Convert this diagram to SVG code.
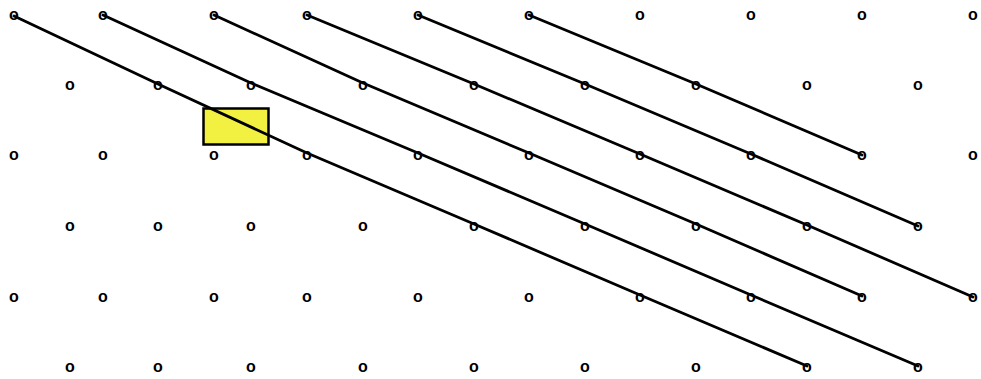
<svg xmlns="http://www.w3.org/2000/svg" width="981" height="379" viewBox="0 0 981 379">
<style>
.o{font-family:"Liberation Sans",Arial,sans-serif;font-size:16px;font-weight:bold;fill:#000;text-anchor:middle}
.ln{fill:none;stroke:#000;stroke-width:2.8;stroke-linejoin:round;stroke-linecap:round}
.box{fill:#f2f040;stroke:#000;stroke-width:2.5}
</style>
<rect width="981" height="379" fill="#fff"/>
<g id="nodes">
<g id="row1">
<text class="o" x="14" y="20">o</text>
<text class="o" x="103" y="20">o</text>
<text class="o" x="214" y="20">o</text>
<text class="o" x="307" y="20">o</text>
<text class="o" x="418" y="20">o</text>
<text class="o" x="529" y="20">o</text>
<text class="o" x="640" y="20">o</text>
<text class="o" x="751" y="20">o</text>
<text class="o" x="862" y="20">o</text>
<text class="o" x="973" y="20">o</text>
</g>
<g id="row2">
<text class="o" x="70" y="90">o</text>
<text class="o" x="158" y="90">o</text>
<text class="o" x="251" y="90">o</text>
<text class="o" x="363" y="90">o</text>
<text class="o" x="474" y="90">o</text>
<text class="o" x="585" y="90">o</text>
<text class="o" x="696" y="90">o</text>
<text class="o" x="807" y="90">o</text>
<text class="o" x="918" y="90">o</text>
</g>
<g id="row3">
<text class="o" x="14" y="160">o</text>
<text class="o" x="103" y="160">o</text>
<text class="o" x="214" y="160">o</text>
<text class="o" x="307" y="160">o</text>
<text class="o" x="418" y="160">o</text>
<text class="o" x="529" y="160">o</text>
<text class="o" x="640" y="160">o</text>
<text class="o" x="751" y="160">o</text>
<text class="o" x="862" y="160">o</text>
<text class="o" x="973" y="160">o</text>
</g>
<g id="row4">
<text class="o" x="70" y="231">o</text>
<text class="o" x="158" y="231">o</text>
<text class="o" x="251" y="231">o</text>
<text class="o" x="363" y="231">o</text>
<text class="o" x="474" y="231">o</text>
<text class="o" x="585" y="231">o</text>
<text class="o" x="696" y="231">o</text>
<text class="o" x="807" y="231">o</text>
<text class="o" x="918" y="231">o</text>
</g>
<g id="row5">
<text class="o" x="14" y="302">o</text>
<text class="o" x="103" y="302">o</text>
<text class="o" x="214" y="302">o</text>
<text class="o" x="307" y="302">o</text>
<text class="o" x="418" y="302">o</text>
<text class="o" x="529" y="302">o</text>
<text class="o" x="640" y="302">o</text>
<text class="o" x="751" y="302">o</text>
<text class="o" x="862" y="302">o</text>
<text class="o" x="973" y="302">o</text>
</g>
<g id="row6">
<text class="o" x="70" y="372">o</text>
<text class="o" x="158" y="372">o</text>
<text class="o" x="251" y="372">o</text>
<text class="o" x="363" y="372">o</text>
<text class="o" x="474" y="372">o</text>
<text class="o" x="585" y="372">o</text>
<text class="o" x="696" y="372">o</text>
<text class="o" x="807" y="372">o</text>
<text class="o" x="918" y="372">o</text>
</g>
</g>
<g id="box"><rect class="box" x="203.5" y="108.5" width="65" height="36"/></g>
<g id="connectors">
<polyline class="ln" points="14,16 158,84 307,153 474,224 640,295 807,366"/>
<polyline class="ln" points="103,15 251,83 418,153 585,224 751,295 918,366"/>
<polyline class="ln" points="214,15 363,83 529,153 696,224 862,296"/>
<polyline class="ln" points="307,15 474,84 640,154 807,225 973,297"/>
<polyline class="ln" points="418,15 585,84 751,154 918,226"/>
<polyline class="ln" points="529,15 696,84 862,155"/>
</g>
</svg>
